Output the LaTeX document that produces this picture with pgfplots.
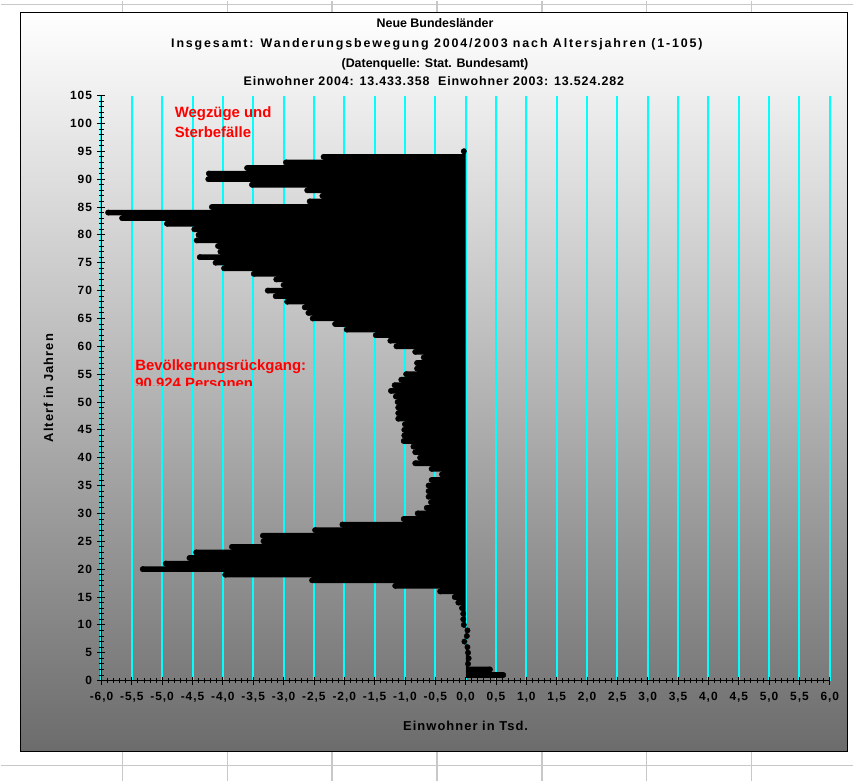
\documentclass[border=0pt]{standalone}
\usepackage{fontspec}
\setmainfont{Liberation Sans}
\usepackage{pgfplots}
\usepackage{pgfplotstable}
\pgfplotsset{compat=1.18}
\definecolor{gridcyan}{RGB}{0,255,255}
\definecolor{bgtop}{RGB}{255,255,255}
\definecolor{bgmid}{RGB}{201,201,201}
\definecolor{bgbot}{RGB}{108,108,108}
\definecolor{cellgray}{RGB}{200,200,200}
\definecolor{txtred}{RGB}{255,0,0}

\pgfplotstableread{
age val
1 0.62
2 0.40
3 0.04
4 0.05
5 0.04
6 0.03
7 -0.02
8 0.02
9 0.03
10 -0.03
11 -0.04
12 -0.04
13 -0.06
14 -0.12
15 -0.18
16 -0.42
17 -1.16
18 -2.53
19 -3.96
20 -5.32
21 -4.94
22 -4.55
23 -4.44
24 -3.85
25 -3.33
26 -3.34
27 -2.48
28 -2.03
29 -1.02
30 -0.79
31 -0.64
32 -0.57
33 -0.61
34 -0.61
35 -0.61
36 -0.56
37 -0.39
38 -0.56
39 -0.83
40 -0.75
41 -0.83
42 -0.86
43 -1.02
44 -1.01
45 -1.01
46 -1.00
47 -1.11
48 -1.11
49 -1.11
50 -1.12
51 -1.15
52 -1.23
53 -1.17
54 -1.06
55 -0.98
56 -0.80
57 -0.80
58 -0.69
59 -0.83
60 -1.14
61 -1.24
62 -1.48
63 -1.96
64 -2.15
65 -2.52
66 -2.59
67 -2.65
68 -2.94
69 -3.13
70 -3.26
71 -3.00
72 -3.12
73 -3.49
74 -3.98
75 -4.12
76 -4.38
77 -4.04
78 -4.08
79 -4.43
80 -4.40
81 -4.47
82 -4.92
83 -5.66
84 -5.89
85 -4.18
86 -2.57
87 -2.36
88 -2.61
89 -3.52
90 -4.24
91 -4.23
92 -3.60
93 -2.96
94 -2.34
95 -0.03
}\bev

\begin{document}
\begin{tikzpicture}
% canvas
\fill[white] (-100.9bp,-101bp) rectangle (753.1bp,681bp);
% spreadsheet cell lines
\draw[cellgray, line width=1.5bp] (-100.9bp,677bp) -- (753.1bp,677bp);
\draw[cellgray, line width=1.5bp] (-100.9bp,-85bp) -- (753.1bp,-85bp);
\foreach \cx in {21.1,126.1,231.1,336.1,441.1,546.1,651.1} {
  \draw[cellgray, line width=1.5bp] (\cx bp,681bp) -- (\cx bp,669bp);
  \draw[cellgray, line width=1.5bp] (\cx bp,-71bp) -- (\cx bp,-101bp);
}
% chart area
\shade[top color=bgtop, middle color=bgmid, bottom color=bgbot] (-80.9bp,-71bp) rectangle (747.1bp,669bp);
\draw[black, line width=1bp] (-80.9bp,-71bp) rectangle (747.1bp,669bp);

\begin{axis}[
  at={(0,0)}, anchor=south west, scale only axis,
  width=729.6bp, height=586bp,
  xmin=-6, xmax=6, ymin=0, ymax=105,
  axis x line*=bottom, axis y line*=left,
  axis line style={black, line width=1bp},
  xtick={-6,-5.5,-5,-4.5,-4,-3.5,-3,-2.5,-2,-1.5,-1,-0.5,0,0.5,1,1.5,2,2.5,3,3.5,4,4.5,5,5.5,6},
  ytick={0,5,10,15,20,25,30,35,40,45,50,55,60,65,70,75,80,85,90,95,100,105},
  minor x tick num=4, minor y tick num=4,
  tick align=center, major tick length=8bp, minor tick length=5bp,
  tick style={black, line width=0.8bp},
  xmajorgrids, major grid style={gridcyan, line width=2bp},
  /pgf/number format/assume math mode=true,
  tick label style={font=\fontsize{12}{14}\selectfont\bfseries\addfontfeature{LetterSpace=8}},
  xticklabel style={/pgf/number format/.cd, fixed, fixed zerofill, precision=1, use comma, /tikz/.cd, yshift=-4bp},
  yticklabel style={/pgf/number format/.cd, fixed, precision=0, /tikz/.cd, xshift=-2bp},
  xlabel={Einwohner in Tsd.}, ylabel={Alterf in Jahren},
  label style={font=\fontsize{13}{15}\selectfont\bfseries\addfontfeature{LetterSpace=8}},
  xlabel style={at={(axis description cs:0.5,0)}, anchor=center, yshift=-45bp},
  ylabel style={at={(axis description cs:-0.0726,0.5)}, anchor=center},
  clip=false,
]
\addplot[xbar, bar width=1, fill=black, draw=none] table[x=val, y=age] {\bev};
\addplot[only marks, mark=*, mark size=2.7bp, mark options={fill=black, draw=none}] table[x=val, y=age] {\bev};

\node[anchor=base west, text=txtred, font=\fontsize{15}{17}\selectfont\bfseries] at (axis cs:-4.85,101.1) {Wegzüge und};
\node[anchor=base west, text=txtred, font=\fontsize{15}{17}\selectfont\bfseries] at (axis cs:-4.85,97.5) {Sterbefälle};
\node[anchor=base west, text=txtred, font=\fontsize{15}{17}\selectfont\bfseries] at (axis cs:-5.50,55.7) {Bevölkerungsrückgang:};
\begin{scope}
\clip (axis cs:-6,52.9) rectangle (axis cs:-1,56);
\node[anchor=base west, text=txtred, font=\fontsize{15}{17}\selectfont\bfseries] at (axis cs:-5.50,52.4) {90.924 Personen};
\end{scope}
\end{axis}

% title
\begin{scope}[every node/.style={anchor=base}]
\node[font=\fontsize{12.5}{14}\selectfont\bfseries] at (334.1bp,654.5bp) {Neue Bundesländer};
\node[font=\fontsize{12.5}{14}\selectfont\bfseries\addfontfeature{LetterSpace=15}] at (336bp,634.5bp) {Insgesamt: Wanderungsbewegung 2004/2003 nach Altersjahren (1-105)};
\node[font=\fontsize{12.5}{14}\selectfont\bfseries] at (334.1bp,614.5bp) {(Datenquelle: Stat. Bundesamt)};
\node[font=\fontsize{12.5}{14}\selectfont\bfseries\addfontfeature{LetterSpace=7}] at (333bp,596.5bp) {Einwohner 2004: 13.433.358\ \ Einwohner 2003: 13.524.282};
\end{scope}
\end{tikzpicture}
\end{document}
